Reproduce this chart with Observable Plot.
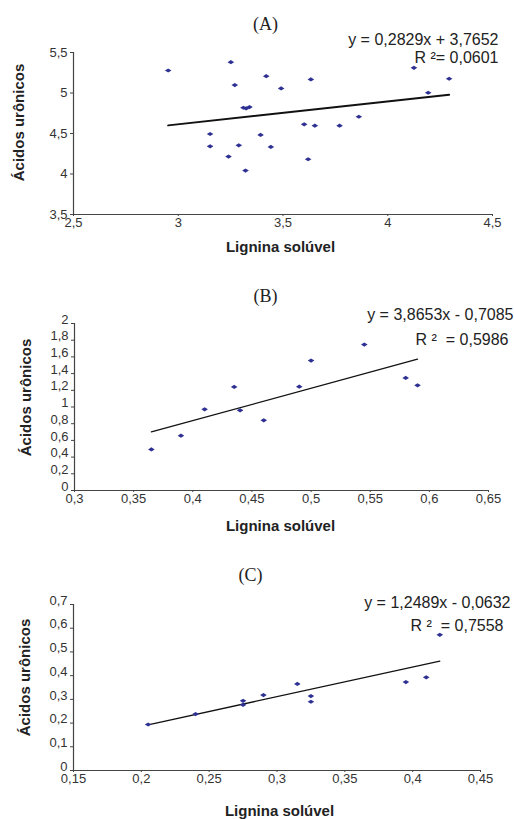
<!DOCTYPE html>
<html><head><meta charset="utf-8">
<script src="https://cdn.jsdelivr.net/npm/d3@7"></script>
<script src="https://cdn.jsdelivr.net/npm/@observablehq/plot@0.6"></script>
<style>
html,body{margin:0;padding:0;background:#fff;}
#chart{width:514px;}
#chart svg{display:block;overflow:visible;}
</style></head><body><div id="chart"></div>
<script>
// ---- data ----
const panelTitles = ["(A)", "(B)", "(C)"];
const xLabel = "Lignina solúvel";
const yLabel = "Ácidos urônicos";

const aX = [2.952, 3.251, 3.270, 3.420, 3.491, 3.633, 4.125, 4.293, 4.193, 3.311, 3.324, 3.340, 3.152, 3.152, 3.289, 3.240, 3.321, 3.393, 3.442, 3.601, 3.652, 3.770, 3.862, 3.620];
const aY = [5.278, 5.381, 5.098, 5.208, 5.056, 5.167, 5.311, 5.176, 5.003, 4.818, 4.810, 4.826, 4.494, 4.342, 4.354, 4.215, 4.042, 4.482, 4.334, 4.613, 4.597, 4.597, 4.707, 4.182];

const bX = [0.365, 0.390, 0.410, 0.435, 0.440, 0.460, 0.490, 0.500, 0.545, 0.580, 0.590];
const bY = [0.492, 0.656, 0.972, 1.240, 0.960, 0.840, 1.244, 1.556, 1.748, 1.348, 1.260];

const cX = [0.205, 0.240, 0.275, 0.275, 0.290, 0.315, 0.325, 0.325, 0.395, 0.410, 0.420];
const cY = [0.194, 0.238, 0.294, 0.277, 0.318, 0.365, 0.314, 0.290, 0.373, 0.393, 0.572];

const equations = ["y = 0,2829x + 3,7652", "y = 3,8653x - 0,7085", "y = 1,2489x - 0,0632"];
const r2Labels = ["R \u00B2= 0,0601", "R \u00B2  = 0,5986", "R \u00B2  = 0,7558"];
const slopes = [0.2829, 3.8653, 1.2489];
const intercepts = [3.7652, -0.7085, -0.0632];

const xDomains = [[2.5, 4.5], [0.3, 0.65], [0.15, 0.45]];
const yDomains = [[3.5, 5.5], [0, 2], [0, 0.7]];
const xTicks = [[2.5, 3, 3.5, 4, 4.5], [0.3, 0.35, 0.4, 0.45, 0.5, 0.55, 0.6, 0.65], [0.15, 0.2, 0.25, 0.3, 0.35, 0.4, 0.45]];
const yTicks = [[3.5, 4, 4.5, 5, 5.5], [0, 0.2, 0.4, 0.6, 0.8, 1, 1.2, 1.4, 1.6, 1.8, 2], [0, 0.1, 0.2, 0.3, 0.4, 0.5, 0.6, 0.7]];

const xs = [aX, bX, cX];
const ys = [aY, bY, cY];

// ---- layout (positions in svg pixels) ----
const layouts = [
  {height: 262, m: {top: 52, bottom: 48, left: 73, right: 22}, title: [265, 24], eq: [498, 39], r2: [498, 57],
   xl: [280, 247], yl: [19, 122], lineW: 2, ytdy: 0},
  {height: 278, m: {top: 61, bottom: 50, left: 74, right: 26}, title: [265, 34], eq: [513, 52], r2: [508, 77],
   xl: [280, 264], yl: [26, 135], lineW: 1.3, ytdy: -4},
  {height: 279, m: {top: 64, bottom: 49, left: 73, right: 34}, title: [250, 35], eq: [510, 62], r2: [503, 85],
   xl: [279, 271], yl: [25, 137], lineW: 1.3, ytdy: -4}
];

const fmt = d => String(+d.toFixed(2)).replace(".", ",");
const FONT = "'Liberation Sans', Arial, sans-serif";

// small horizontal diamond marker
const flatDiamond = {
  draw(ctx) {
    ctx.moveTo(-3.3, 0); ctx.lineTo(0, -2.1); ctx.lineTo(3.3, 0); ctx.lineTo(0, 2.1); ctx.closePath();
  }
};

function at(p, m, anchor = "middle") {
  return {frameAnchor: "top-left", dx: p[0] - m.left, dy: p[1] - m.top, textAnchor: anchor, lineAnchor: "middle"};
}

const chart = document.getElementById("chart");
for (let i = 0; i < 3; i++) {
  const L = layouts[i], m = L.m;
  const pts = xs[i].map((x, j) => ({x, y: ys[i][j]}));
  const x0 = d3.min(xs[i]), x1 = d3.max(xs[i]);
  const trend = [x0, x1].map(x => ({x, y: slopes[i] * x + intercepts[i]}));
  const svg = Plot.plot({
    width: 514,
    height: L.height,
    marginTop: m.top, marginBottom: m.bottom, marginLeft: m.left, marginRight: m.right,
    style: {fontFamily: FONT, fontSize: "13px", color: "#333", background: "#fff"},
    x: {domain: xDomains[i]},
    y: {domain: yDomains[i]},
    marks: [
      Plot.axisX({ticks: xTicks[i], tickFormat: fmt, tickSize: 2, tickPadding: 1.5, label: null, stroke: "#444"}),
      // tick marks only
      Plot.axisY({ticks: yTicks[i], tickFormat: () => "", tickSize: 3, label: null, stroke: "#444"}),
      // tick labels only
      Plot.axisY({ticks: yTicks[i], tickFormat: fmt, tickSize: 0, tickPadding: 6, label: null, dy: L.ytdy}),
      Plot.ruleX([xDomains[i][0]], {stroke: "#444", strokeWidth: 1.2}),
      Plot.ruleY([yDomains[i][0]], {stroke: "#444", strokeWidth: 1.2}),
      Plot.line(trend, {x: "x", y: "y", stroke: "#111", strokeWidth: L.lineW}),
      Plot.dot(pts, {x: "x", y: "y", symbol: flatDiamond, r: 3, fill: "#2e3192", stroke: "none"}),
      Plot.text([panelTitles[i]], {text: d => d, ...at(L.title, m), fontFamily: "'Liberation Serif', 'Times New Roman', serif", fontSize: 18, fill: "#222"}),
      Plot.text([equations[i]], {text: d => d, ...at(L.eq, m, "end"), fontSize: 16, fill: "#222"}),
      Plot.text([r2Labels[i]], {text: d => d, ...at(L.r2, m, "end"), fontSize: 16, fill: "#222"}),
      Plot.text([xLabel], {text: d => d, ...at(L.xl, m), fontSize: 15, fontWeight: "bold", fill: "#222"}),
      Plot.text([yLabel], {text: d => d, ...at(L.yl, m), rotate: -90, fontSize: 15, fontWeight: "bold", fill: "#222"})
    ]
  });
  chart.appendChild(svg);
}
</script>
</body></html>
